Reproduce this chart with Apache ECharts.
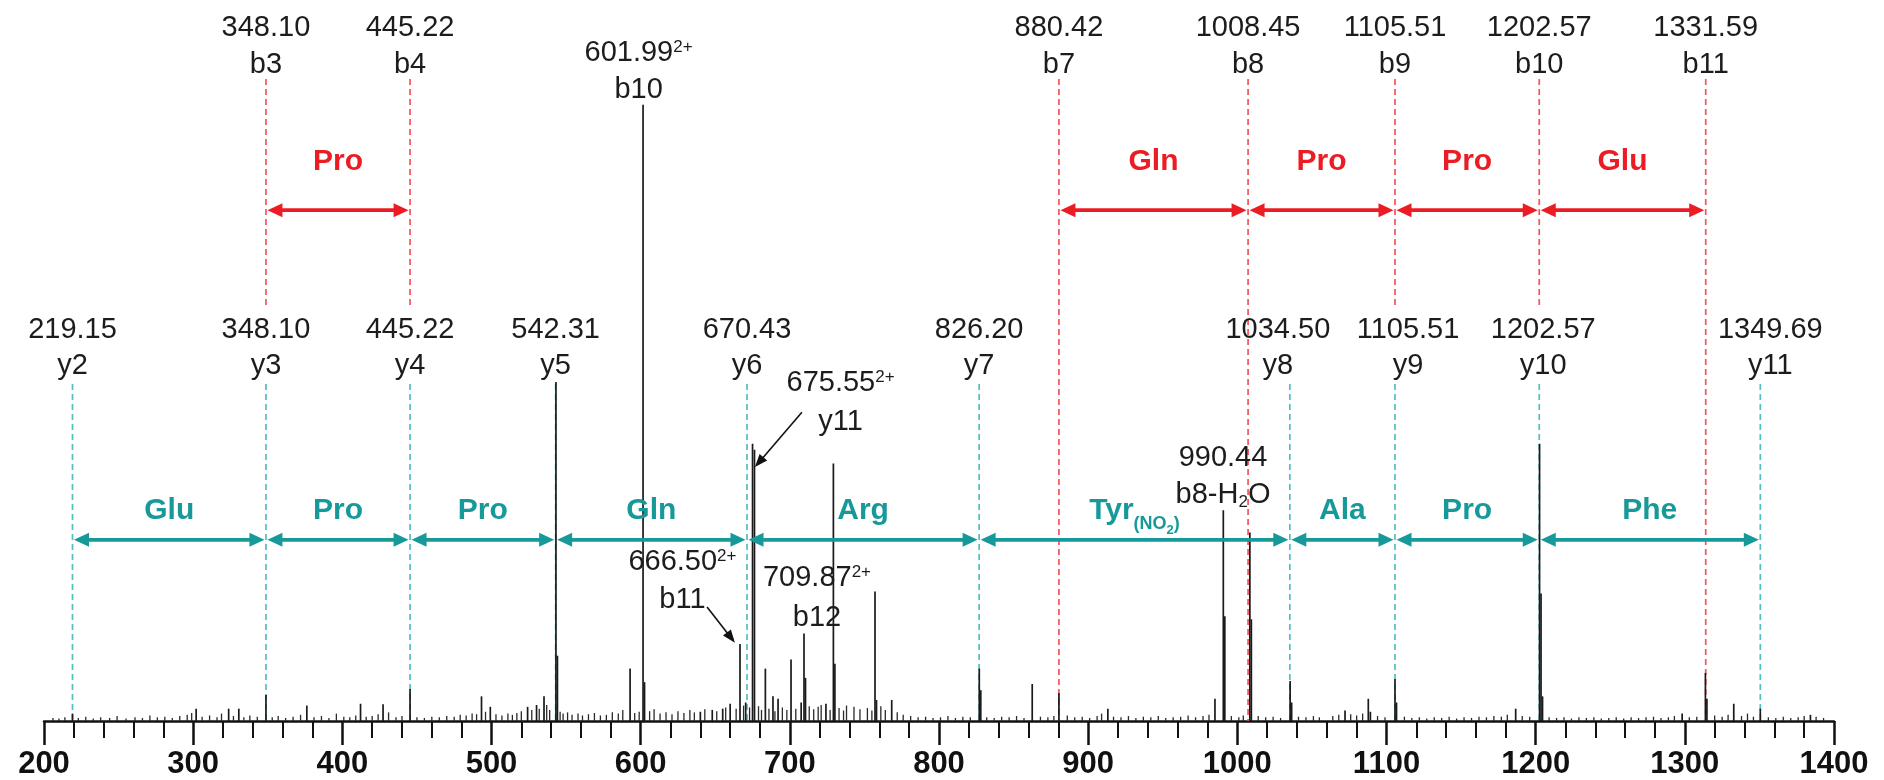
<!DOCTYPE html>
<html>
<head>
<meta charset="utf-8">
<title>MS/MS spectrum</title>
<script src="https://cdn.jsdelivr.net/npm/echarts@6/dist/echarts.min.js"></script>
<style>
  html, body { margin: 0; padding: 0; background: #fff; }
  #main { width: 1884px; height: 780px; }
</style>
</head>
<body>
<div id="main"></div>
<script>
// x axis
const mzMin = 200;
const mzMax = 1400;
const mzStep = 100;

// labelled peaks [m/z, relative intensity %]
const peaks = [
  [219.1, 1.2], [302, 2.0], [323.8, 2.0], [330.6, 2.0], [348.8, 4.2], [376.2, 2.5], [412.2, 2.8],
  [427.3, 2.7], [445.4, 5.2], [493.3, 4.0], [499.2, 2.3], [524.2, 2.3], [530.2, 2.6], [535.2, 4.0],
  [543.2, 55], [544.2, 10.6], [592.9, 8.5], [601.6, 100], [602.6, 6.3], [640, 1.5], [648, 1.8],
  [655, 2.0], [660, 2.8], [666.6, 12.5], [670.4, 3.0], [675.0, 45], [676.3, 44], [683.6, 8.5],
  [688.7, 4.0], [692.1, 3.6], [700.8, 10], [707.6, 3.0], [709.5, 14.2], [710.5, 7.0], [724.2, 2.8],
  [729.2, 41.8], [730.2, 9.3], [757.1, 21], [758.1, 3.4], [768.3, 3.4], [827, 8.5], [828, 5.0],
  [862.5, 6.0], [880.4, 4.5], [913.2, 2.0], [985, 3.6], [990.6, 34.2], [991.6, 17], [1008.4, 30.6],
  [1009.4, 16.5], [1035.4, 6.5], [1036.4, 3.0], [1072.2, 1.7], [1087.8, 3.6], [1089.2, 1.5],
  [1105.7, 6.8], [1106.7, 3.0], [1186.6, 2.0], [1202.6, 45], [1203.6, 20.7], [1204.6, 4.0],
  [1298.2, 1.2], [1313.8, 7.8], [1314.8, 3.6], [1332.8, 2.8], [1350.6, 2.0], [1384.2, 1.0]
];

// small background peaks [m/z, relative intensity %]
const noise = [
  [206, 0.5], [210, 0.4], [214, 0.6], [223, 0.5], [228, 0.7], [233, 0.4], [238, 0.6], [244, 0.5],
  [249, 0.8], [255, 0.4], [261, 0.6], [266, 0.5], [271, 0.9], [276, 0.6], [281, 0.7], [286, 0.5],
  [291, 0.8], [296, 1.0], [299, 1.3], [306, 0.7], [311, 0.9], [316, 0.6], [319, 1.2], [327, 0.8],
  [334, 0.6], [338, 0.9], [343, 0.7], [353, 0.6], [357, 0.8], [362, 0.5], [367, 0.7], [372, 1.0],
  [381, 0.6], [386, 0.8], [391, 0.5], [396, 1.2], [401, 0.7], [405, 0.6], [409, 0.9], [416, 0.7],
  [420, 0.8], [424, 1.1], [431, 1.4], [436, 0.6], [440, 0.8], [450, 0.6], [455, 0.5], [460, 0.7],
  [465, 0.6], [470, 0.8], [475, 0.7], [479, 1.0], [483, 0.9], [487, 1.2], [490, 1.1], [496, 1.5],
  [503, 1.1], [507, 0.9], [511, 1.2], [514, 1.0], [517, 1.3], [520, 1.6], [527, 1.8], [532, 2.0],
  [537, 2.6], [539, 1.8], [546, 1.5], [548, 1.2], [551, 1.4], [554, 1.0], [558, 1.2], [561, 0.9],
  [565, 1.1], [569, 1.3], [573, 0.9], [577, 1.0], [581, 1.4], [585, 1.2], [588, 1.8], [596, 1.3],
  [599, 1.5], [606, 1.6], [609, 1.9], [613, 1.2], [617, 1.4], [621, 1.1], [625, 1.6], [629, 1.3],
  [633, 1.8], [636, 1.4], [643, 1.9], [651, 1.6], [657, 2.2], [664, 2.0], [669, 2.5], [673, 2.2],
  [679, 2.4], [681, 1.8], [686, 2.0], [690, 1.6], [695, 2.2], [698, 1.8], [704, 2.0], [713, 2.4],
  [716, 1.9], [719, 2.3], [721, 2.6], [727, 1.8], [733, 2.1], [736, 1.7], [738, 2.5], [743, 2.3],
  [747, 1.9], [752, 2.1], [755, 1.7], [761, 2.4], [764, 1.8], [772, 1.4], [776, 1.0], [781, 0.8],
  [786, 0.6], [791, 0.7], [796, 0.5], [801, 0.6], [806, 0.8], [811, 0.5], [816, 0.7], [821, 0.6],
  [832, 0.6], [837, 0.5], [842, 0.7], [847, 0.6], [852, 0.8], [857, 0.5], [868, 0.7], [873, 0.6],
  [877, 0.8], [886, 0.9], [891, 0.6], [896, 0.7], [901, 0.5], [906, 0.8], [909, 1.2], [917, 0.7],
  [922, 0.6], [927, 0.8], [932, 0.5], [937, 0.7], [942, 0.6], [947, 0.8], [952, 0.5], [957, 0.6],
  [962, 0.7], [967, 0.9], [972, 0.6], [977, 0.8], [981, 1.0], [996, 0.8], [1001, 0.6], [1004, 0.9],
  [1014, 0.8], [1019, 0.6], [1024, 0.7], [1029, 0.5], [1041, 0.7], [1046, 0.6], [1051, 0.8],
  [1055, 0.6], [1064, 0.8], [1068, 1.0], [1076, 1.1], [1080, 0.9], [1084, 1.2], [1094, 0.8],
  [1099, 0.6], [1112, 0.7], [1117, 0.5], [1122, 0.6], [1127, 0.4], [1132, 0.6], [1137, 0.5],
  [1142, 0.7], [1147, 0.4], [1152, 0.6], [1157, 0.5], [1162, 0.7], [1167, 0.6], [1172, 0.8],
  [1177, 0.7], [1181, 1.0], [1191, 0.8], [1196, 0.7], [1209, 0.6], [1214, 0.5], [1219, 0.6],
  [1224, 0.4], [1229, 0.6], [1234, 0.5], [1239, 0.6], [1244, 0.4], [1249, 0.5], [1254, 0.6],
  [1259, 0.4], [1264, 0.6], [1269, 0.5], [1274, 0.6], [1279, 0.7], [1284, 0.5], [1289, 0.6],
  [1293, 0.8], [1303, 0.6], [1308, 0.7], [1320, 0.9], [1325, 0.7], [1329, 1.0], [1338, 0.8],
  [1342, 1.2], [1346, 0.7], [1356, 0.6], [1361, 0.5], [1366, 0.7], [1371, 0.5], [1376, 0.6],
  [1380, 0.8], [1388, 0.7], [1393, 0.5]
];

// b ions: where the guide line is drawn, label text
const bPos = [348.8, 445.4, 880.4, 1007.2, 1105.7, 1202.4, 1314.0];
const bMz = ['348.10', '445.22', '880.42', '1008.45', '1105.51', '1202.57', '1331.59'];
const bName = ['b3', 'b4', 'b7', 'b8', 'b9', 'b10', 'b11'];
const bSteps = [[0, 1, 'Pro'], [2, 3, 'Gln'], [3, 4, 'Pro'], [4, 5, 'Pro'], [5, 6, 'Glu']];

// y ions
const yPos = [219.1, 348.8, 445.4, 543.0, 671.3, 826.9, 1035.2, 1105.7, 1202.4, 1350.6];
const yMz = ['219.15', '348.10', '445.22', '542.31', '670.43', '826.20', '1034.50', '1105.51', '1202.57', '1349.69'];
const yName = ['y2', 'y3', 'y4', 'y5', 'y6', 'y7', 'y8', 'y9', 'y10', 'y11'];
const ySteps = ['Glu', 'Pro', 'Pro', 'Gln', 'Arg', 'Tyr(NO2)', 'Ala', 'Pro', 'Phe'];

// other annotated peaks
const extraMz = ['601.99', '675.55', '666.50', '709.87', '990.44'];
const extraCharge = ['2+', '2+', '2+', '2+', ''];
const extraName = ['b10', 'y11', 'b11', 'b12', 'b8-H2O'];

// ---------- layout / styles ----------
const FONT = '"Liberation Sans", Arial, Helvetica, sans-serif';
const INK = '#1c1c1c';
const RED = '#ec1c24', RED_DASH = '#f2555c';
const TEAL = '#17999a', TEAL_DASH = '#52bec2';
const yMax = 117;
const lv = {
  bVal: 112.46, bName: 106.45, bTop: 104.2, bStep: 90.7, bArrow: 82.9, bBreak: 67.0,
  yVal: 63.45, yName: 57.6, yTop: 54.7, yStep: 34.2, yArrow: 29.4
};
const yDx = [0, 0, 0, 0, 0, 0, -12, 13, 4, 10];
const calloutAt = [[598.6, 108.4, 102.4], [734, 54.85, 48.5], [628, 25.8, 19.6], [718.2, 23.2, 16.7], [990.4, 42.7, 36.7]];
const calloutArrows = [[708.1, 50.1, 676.6, 41.2], [644.5, 18.5, 663.2, 12.7]];

const measure = document.createElement('canvas').getContext('2d');
function textWidth(t, font) { measure.font = font; return measure.measureText(t).width; }

function seg(t, size, opt) { return Object.assign({ t: t, size: size, dy: 0, bold: false }, opt || {}); }
const sup = t => seg(t, 17, { dy: -6 });
const sub = t => seg(t, 17, { dy: 7 });

function nameSegs(name) {
  if (name === 'b8-H2O') return [seg('b8-H', 29), sub('2'), seg('O', 29)];
  return [seg(name, 29)];
}
function aaSegs(name) {
  if (name === 'Tyr(NO2)') {
    return [seg('Tyr', 30, { bold: true }), seg('(NO', 18, { bold: true, dy: 14 }),
      seg('2', 13, { bold: true, dy: 20 }), seg(')', 18, { bold: true, dy: 14 })];
  }
  return [seg(name, 30, { bold: true })];
}

// text items
const texts = [];
function addText(x, y, segs, fill, dx) { texts.push({ x: x, y: y, segs: segs, fill: fill || INK, dx: dx || 0 }); }

bPos.forEach((x, i) => {
  addText(x, lv.bVal, [seg(bMz[i], 29)]);
  addText(x, lv.bName, [seg(bName[i], 29)]);
});
yPos.forEach((x, i) => {
  addText(x, lv.yVal, [seg(yMz[i], 29)], INK, yDx[i]);
  addText(x, lv.yName, [seg(yName[i], 29)], INK, yDx[i]);
});
extraMz.forEach((m, i) => {
  const c = calloutAt[i];
  const segs = [seg(m, 29)];
  if (extraCharge[i]) segs.push(sup(extraCharge[i]));
  addText(c[0], c[1], segs);
  addText(c[0], c[2], nameSegs(extraName[i]));
});
bSteps.forEach(s => addText((bPos[s[0]] + bPos[s[1]]) / 2, lv.bStep, aaSegs(s[2]), RED));
ySteps.forEach((s, i) => addText((yPos[i] + yPos[i + 1]) / 2, lv.yStep, aaSegs(s), TEAL));

// dashed guide lines
const guides = [];
bPos.forEach(x => {
  const shared = yPos.some(v => Math.abs(v - x) < 2);
  guides.push({ x: x, y0: lv.bTop, y1: shared ? lv.bBreak : 0, color: RED_DASH });
});
yPos.forEach(x => guides.push({ x: x, y0: lv.yTop, y1: 0, color: TEAL_DASH }));

// double arrows
const arrows = [];
bSteps.forEach(s => arrows.push({ x1: bPos[s[0]], x2: bPos[s[1]], y: lv.bArrow, color: RED }));
ySteps.forEach((s, i) => arrows.push({ x1: yPos[i], x2: yPos[i + 1], y: lv.yArrow, color: TEAL }));

function head(tx, ty, ux, uy, len, half, fill) {
  const bx = tx - ux * len, by = ty - uy * len;
  return {
    type: 'polygon',
    shape: { points: [[tx, ty], [bx - uy * half, by + ux * half], [bx + uy * half, by - ux * half]] },
    style: { fill: fill }
  };
}

function segTexts(cx, cy, segs, fill) {
  const fonts = segs.map(s => (s.bold ? 'bold ' : '') + s.size + 'px ' + FONT);
  const widths = segs.map((s, i) => textWidth(s.t, fonts[i]));
  let x = cx - widths.reduce((a, b) => a + b, 0) / 2;
  return segs.map((s, i) => {
    const el = {
      type: 'text', x: x, y: cy + s.dy,
      style: { text: s.t, font: fonts[i], fill: fill, align: 'left', verticalAlign: 'middle' }
    };
    x += widths[i];
    return el;
  });
}

function stickSeries(list, width, color) {
  return {
    type: 'custom', silent: true, z: 3,
    data: list,
    renderItem: function (params, api) {
      const p0 = api.coord([api.value(0), 0]);
      const p1 = api.coord([api.value(0), api.value(1)]);
      return { type: 'line', shape: { x1: p0[0], y1: p0[1], x2: p1[0], y2: p1[1] }, style: { stroke: color, lineWidth: width } };
    }
  };
}

let myChart = echarts.init(document.getElementById('main'));
myChart.setOption({
  animation: false,
  backgroundColor: '#fff',
  grid: { left: 44, right: 50, top: 0, bottom: 59 },
  xAxis: {
    type: 'value', min: mzMin, max: mzMax, interval: mzStep,
    axisLine: { show: true, onZero: false, lineStyle: { color: '#111', width: 2.5 } },
    axisTick: { show: true, length: 24, lineStyle: { color: '#111', width: 2.5 } },
    minorTick: { show: true, splitNumber: 5, length: 17, lineStyle: { color: '#111', width: 2 } },
    axisLabel: {
      color: '#111', fontFamily: FONT, fontWeight: 'bold', fontSize: 31, margin: 28,
      formatter: v => String(v)
    },
    splitLine: { show: false },
    minorSplitLine: { show: false }
  },
  yAxis: { type: 'value', min: 0, max: yMax, show: false },
  series: [
    {
      type: 'custom', silent: true, z: 1,
      data: guides.map(g => [g.x, g.y0]),
      renderItem: function (params, api) {
        const g = guides[params.dataIndex];
        const a = api.coord([g.x, g.y0]), b = api.coord([g.x, g.y1]);
        return { type: 'line', shape: { x1: a[0], y1: a[1], x2: b[0], y2: b[1] }, style: { stroke: g.color, lineWidth: 1.7, lineDash: [6, 4] } };
      }
    },
    stickSeries(noise, 1.3, '#2a2a2a'),
    stickSeries(peaks, 1.7, '#1a1a1a'),
    {
      type: 'custom', silent: true, z: 4,
      data: arrows.map(a => [a.x1, a.y]),
      renderItem: function (params, api) {
        const a = arrows[params.dataIndex];
        const p1 = api.coord([a.x1, a.y]), p2 = api.coord([a.x2, a.y]);
        const gap = 1.5, len = 15, half = 7;
        return {
          type: 'group',
          children: [
            { type: 'line', shape: { x1: p1[0] + gap + 6, y1: p1[1], x2: p2[0] - gap - 6, y2: p2[1] }, style: { stroke: a.color, lineWidth: 3.8 } },
            head(p1[0] + gap, p1[1], -1, 0, len, half, a.color),
            head(p2[0] - gap, p2[1], 1, 0, len, half, a.color)
          ]
        };
      }
    },
    {
      type: 'custom', silent: true, z: 5,
      data: calloutArrows.map(a => [a[0], a[1]]),
      renderItem: function (params, api) {
        const a = calloutArrows[params.dataIndex];
        const p1 = api.coord([a[0], a[1]]), p2 = api.coord([a[2], a[3]]);
        const dx = p2[0] - p1[0], dy = p2[1] - p1[1], l = Math.sqrt(dx * dx + dy * dy);
        const ux = dx / l, uy = dy / l;
        return {
          type: 'group',
          children: [
            { type: 'line', shape: { x1: p1[0], y1: p1[1], x2: p2[0] - ux * 8, y2: p2[1] - uy * 8 }, style: { stroke: '#111', lineWidth: 1.6 } },
            head(p2[0], p2[1], ux, uy, 13, 5, '#111')
          ]
        };
      }
    },
    {
      type: 'custom', silent: true, z: 6,
      data: texts.map(t => [t.x, t.y]),
      renderItem: function (params, api) {
        const t = texts[params.dataIndex];
        const p = api.coord([t.x, t.y]);
        return { type: 'group', children: segTexts(p[0] + t.dx, p[1], t.segs, t.fill) };
      }
    }
  ]
});
window.onresize = function () {
  myChart.resize();
};
</script>
</body>
</html>
